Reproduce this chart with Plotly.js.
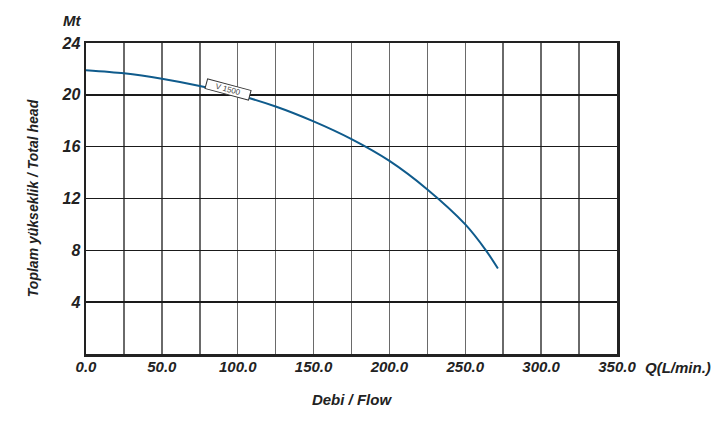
<!DOCTYPE html>
<html>
<head>
<meta charset="utf-8">
<script src="https://cdn.plot.ly/plotly-3.0.1.min.js"></script>
<style>
html,body{margin:0;padding:0;background:#fff;}
#chart{width:726px;height:421px;}
</style>
</head>
<body>
<div id="chart"></div>
<script>
const flow = [0, 25, 50, 75, 100, 125, 150, 175, 200, 225, 250, 263.6, 271.5];
const head = [21.9, 21.66, 21.24, 20.68, 20.0, 19.1, 17.95, 16.58, 14.9, 12.7, 10.0, 8.0, 6.6];
const seriesName = "V 1500";
const xTickVals = [0, 25, 50, 75, 100, 125, 150, 175, 200, 225, 250, 275, 300, 325, 350];
const xTickText = ["0.0", "", "50.0", "", "100.0", "", "150.0", "", "200.0", "", "250.0", "", "300.0", "", "350.0"];
const yTickVals = [4, 8, 12, 16, 20, 24];
const yTickText = ["4", "8", "12", "16", "20", "24"];

const fam = "Liberation Sans, Arial, sans-serif";
const boldItalic = (size) => ({family: fam, size: size, color: "#222", weight: "bold", style: "italic"});

const trace = {
  x: flow, y: head, type: "scatter", mode: "lines", name: seriesName,
  line: {color: "#0f5b8c", width: 2, shape: "spline", smoothing: 0.8},
  hoverinfo: "skip"
};

const layout = {
  width: 726, height: 421,
  margin: {l: 86, r: 109, t: 43, b: 67},
  paper_bgcolor: "#fff", plot_bgcolor: "#fff",
  showlegend: false,
  font: {family: fam, size: 15, color: "#222"},
  xaxis: {
    range: [0, 350], tickvals: xTickVals, ticktext: xTickText,
    showgrid: true, gridcolor: "#6a6a6a", gridwidth: 1.5,
    showline: true, linecolor: "#222", linewidth: 2.5, mirror: true,
    ticks: "", ticklabelstandoff: -3,
    tickfont: boldItalic(15),
    zeroline: false, fixedrange: true,
    title: {text: "Debi / Flow", font: boldItalic(15), standoff: 21}
  },
  yaxis: {
    range: [0, 24], tickvals: yTickVals, ticktext: yTickText,
    showgrid: true, gridcolor: "#1a1a1a", gridwidth: 1.5,
    showline: true, linecolor: "#222", linewidth: 2.5, mirror: true,
    ticks: "", ticklabelstandoff: 0,
    tickfont: boldItalic(16),
    zeroline: false, fixedrange: true,
    title: {text: "Toplam yükseklik / Total head", font: boldItalic(14), standoff: 20}
  },
  annotations: [
    {x: 93.6, y: 20.4, xref: "x", yref: "y", text: seriesName, showarrow: false,
     textangle: 15, font: {family: fam, size: 8, color: "#444"},
     bgcolor: "#fff", bordercolor: "#333", borderwidth: 1, borderpad: 1, width: 42, height: 7},
    {x: 0, y: 1, xref: "paper", yref: "paper", xanchor: "right", yanchor: "bottom", xshift: -3, yshift: 12,
     text: "Mt", showarrow: false, font: boldItalic(15)},
    {x: 1, y: 0, xref: "paper", yref: "paper", xanchor: "left", yanchor: "top", xshift: 26, yshift: -3,
     text: "Q(L/min.)", showarrow: false, font: boldItalic(15)}
  ]
};

Plotly.newPlot("chart", [trace], layout, {displayModeBar: false, staticPlot: true});
</script>
</body>
</html>
